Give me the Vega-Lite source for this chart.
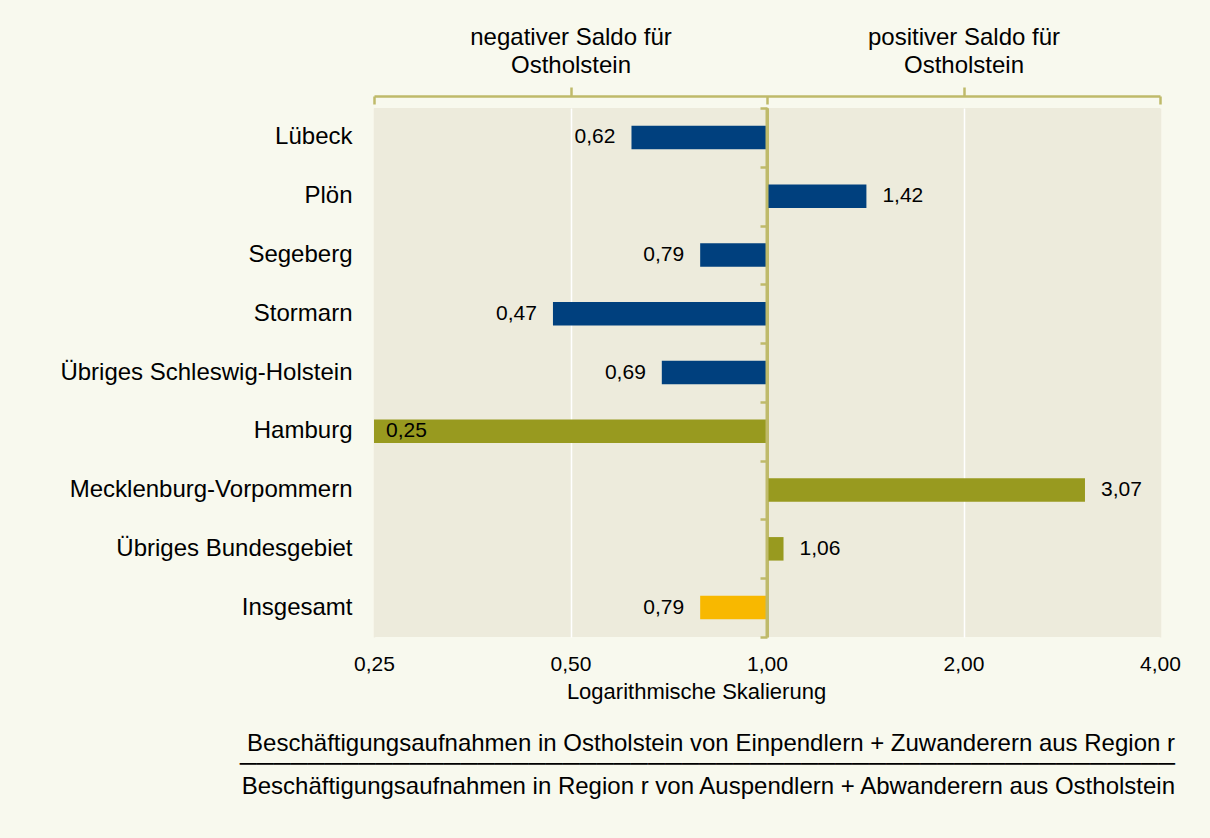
{
  "$schema": "https://vega.github.io/schema/vega-lite/v6.json",
  "autosize": {"type": "none"},
  "width": 786,
  "height": 529,
  "padding": {"left": 374, "top": 108, "right": 50, "bottom": 201},
  "background": "#f8f9ee",
  "data": {
    "values": [
      {"region": "Lübeck", "value": 0.62, "group": "SH"},
      {"region": "Plön", "value": 1.42, "group": "SH"},
      {"region": "Segeberg", "value": 0.79, "group": "SH"},
      {"region": "Stormarn\u00a0", "value": 0.47, "group": "SH"},
      {"region": "Übriges Schleswig-Holstein", "value": 0.69, "group": "SH"},
      {"region": "Hamburg", "value": 0.25, "group": "Other"},
      {"region": "Mecklenburg-Vorpommern", "value": 3.07, "group": "Other"},
      {"region": "Übriges Bundesgebiet", "value": 1.06, "group": "Other"},
      {"region": "Insgesamt", "value": 0.79, "group": "Total"}
    ]
  },
  "title": {
    "text": ["Beschäftigungsaufnahmen in Ostholstein von Einpendlern + Zuwanderern aus Region r", "───────────────────────────────────────────────────────"],
    "subtitle": "Beschäftigungsaufnahmen in Region r von Auspendlern + Abwanderern aus Ostholstein",
    "orient": "bottom",
    "anchor": "end",
    "frame": "group",
    "dx": 15,
    "offset": 30,
    "font": "Liberation Sans, DejaVu Sans",
    "fontSize": 24,
    "fontWeight": "normal",
    "color": "#000000",
    "lineHeight": 20,
    "subtitleFont": "Liberation Sans",
    "subtitleFontSize": 24,
    "subtitleColor": "#000000",
    "subtitlePadding": -1
  },
  "layer": [
    {
      "mark": {"type": "bar"},
      "encoding": {
        "y": {
          "field": "region", "type": "nominal", "sort": null,
          "scale": {"domain": ["Lübeck", "Plön", "Segeberg", "Stormarn\u00a0", "Übriges Schleswig-Holstein", "Hamburg", "Mecklenburg-Vorpommern", "Übriges Bundesgebiet", "Insgesamt"], "paddingInner": 0.6, "paddingOuter": 0.3},
          "axis": {"orient": "left", "title": null, "ticks": false, "domain": false, "labelFontSize": 24, "labelPadding": 22, "labelLimit": 0, "labelColor": "#000000", "labelFont": "Liberation Sans", "grid": false}
        },
        "x": {
          "field": "value", "type": "quantitative",
          "scale": {"type": "log", "base": 2, "domain": [0.25, 4], "nice": false},
          "axis": {
            "orient": "bottom", "values": [0.25, 0.5, 1, 2, 4], "format": ".2f",
            "grid": true,
            "gridColor": {"condition": {"test": "datum.value == 0.5 || datum.value == 2", "value": "#ffffff"}, "value": "#edebdc"},
            "gridWidth": 1.5, "ticks": false, "tickSize": 0, "domain": false,
            "labelFlush": false, "labelOverlap": false,
            "labelFontSize": 21, "labelPadding": 16, "labelColor": "#000000", "labelFont": "Liberation Sans",
            "title": "Logarithmische Skalierung", "titleFontSize": 22, "titleFontWeight": "normal", "titleFont": "Liberation Sans",
            "titleColor": "#000000", "titlePadding": 7, "titleX": 322
          }
        },
        "x2": {"datum": 1},
        "color": {
          "field": "group", "type": "nominal",
          "scale": {"domain": ["SH", "Other", "Total"], "range": ["#00407e", "#989a1f", "#f8b800"]},
          "legend": null
        }
      }
    },
    {
      "mark": {"type": "tick", "thickness": 3, "color": "#bfba6a", "opacity": 1},
      "encoding": {
        "x": {"datum": 1, "type": "quantitative", "axis": null},
        "y": {
          "field": "region", "type": "nominal", "sort": null,
          "scale": {"domain": ["Lübeck", "Plön", "Segeberg", "Stormarn\u00a0", "Übriges Schleswig-Holstein", "Hamburg", "Mecklenburg-Vorpommern", "Übriges Bundesgebiet", "Insgesamt"], "paddingInner": 0, "paddingOuter": 0},
          "axis": {"orient": "left", "offset": -393, "labels": false, "title": null, "grid": false,
            "domain": true, "domainColor": "#bfba6a", "domainWidth": 3,
            "ticks": true, "tickBand": "extent", "tickSize": 7, "tickWidth": 2.5, "tickColor": "#bfba6a"}
        },
        "size": {"value": 59}
      }
    },
    {
      "transform": [{"filter": "datum.value < 1 && datum.region != 'Hamburg'"}],
      "mark": {"type": "text", "align": "right", "dx": -16, "fontSize": 21, "font": "Liberation Sans", "color": "#000000"},
      "encoding": {
        "y": {
          "field": "region", "type": "nominal", "sort": null,
          "scale": {"domain": ["Lübeck", "Plön", "Segeberg", "Stormarn\u00a0", "Übriges Schleswig-Holstein", "Hamburg", "Mecklenburg-Vorpommern", "Übriges Bundesgebiet", "Insgesamt"], "paddingInner": 0.6, "paddingOuter": 0.3},
          "axis": null
        },
        "x": {
          "field": "value", "type": "quantitative",
          "axis": {"orient": "top", "values": [0.5, 2], "offset": 12, "grid": false, "title": null,
            "domain": true, "domainColor": "#bfba6a", "domainWidth": 2.5,
            "ticks": true, "tickSize": 9, "tickWidth": 2.5, "tickColor": "#bfba6a",
            "labelExpr": "datum.value < 1 ? ['negativer Saldo für', 'Ostholstein'] : ['positiver Saldo für', 'Ostholstein']",
            "labelFontSize": 24, "labelFont": "Liberation Sans", "labelColor": "#000000", "labelPadding": 38, "labelLineHeight": 28, "labelLimit": 0, "labelFlush": false, "labelOverlap": false}
        },
        "text": {"field": "value", "type": "quantitative", "format": ".2f"}
      }
    },
    {
      "transform": [{"filter": "datum.value > 1"}],
      "mark": {"type": "text", "align": "left", "dx": 16, "fontSize": 21, "font": "Liberation Sans", "color": "#000000"},
      "encoding": {
        "y": {
          "field": "region", "type": "nominal", "sort": null,
          "scale": {"domain": ["Lübeck", "Plön", "Segeberg", "Stormarn\u00a0", "Übriges Schleswig-Holstein", "Hamburg", "Mecklenburg-Vorpommern", "Übriges Bundesgebiet", "Insgesamt"], "paddingInner": 0.6, "paddingOuter": 0.3},
          "axis": null
        },
        "x": {
          "field": "value", "type": "quantitative",
          "axis": {"orient": "top", "values": [0.25, 1, 4], "offset": 4, "grid": false, "title": null,
            "domain": false, "labels": false,
            "ticks": true, "tickSize": 8, "tickWidth": 2.5, "tickColor": "#bfba6a"}
        },
        "text": {"field": "value", "type": "quantitative", "format": ".2f"}
      }
    },
    {
      "transform": [{"filter": "datum.region == 'Hamburg'"}],
      "mark": {"type": "text", "align": "left", "dx": 12, "fontSize": 21, "font": "Liberation Sans", "color": "#000000"},
      "encoding": {
        "y": {
          "field": "region", "type": "nominal", "sort": null,
          "scale": {"domain": ["Lübeck", "Plön", "Segeberg", "Stormarn\u00a0", "Übriges Schleswig-Holstein", "Hamburg", "Mecklenburg-Vorpommern", "Übriges Bundesgebiet", "Insgesamt"], "paddingInner": 0.6, "paddingOuter": 0.3},
          "axis": null
        },
        "x": {"field": "value", "type": "quantitative", "axis": null},
        "text": {"field": "value", "type": "quantitative", "format": ".2f"}
      }
    }
  ],
  "resolve": {"scale": {"y": "independent"}, "axis": {"x": "independent", "y": "independent"}},
  "config": {
    "view": {"fill": "#edebdc", "stroke": null},
    "font": "Liberation Sans",
    "locale": {"number": {"decimal": ",", "thousands": ".", "grouping": [3], "currency": ["", " €"]}}
  }
}
